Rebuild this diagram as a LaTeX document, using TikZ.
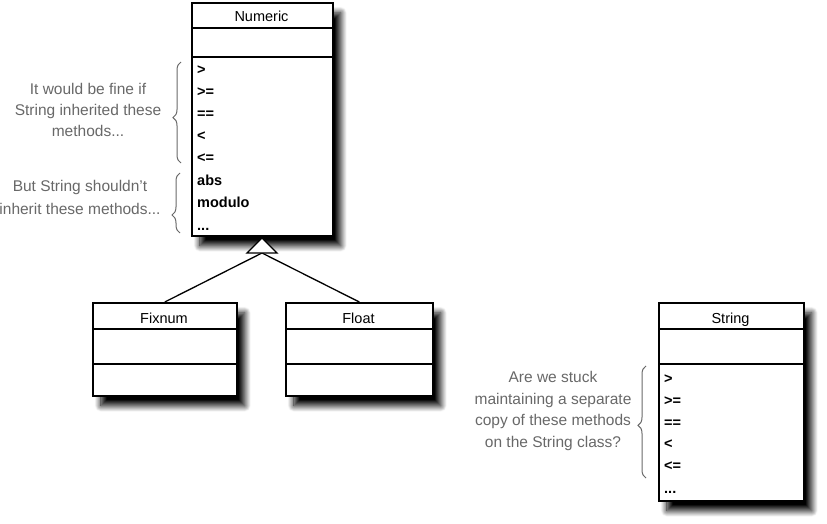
\documentclass[tikz,border=0pt]{standalone}
\usepackage{fontspec}
\setmainfont{Liberation Sans}
\usetikzlibrary{shadows.blur,decorations.pathreplacing}
\definecolor{notegray}{HTML}{686868}
\begin{document}
\begin{tikzpicture}[x=1pt,y=-1pt,
  classbox/.style={draw=black, line width=1.6pt, fill=white, rectangle, anchor=north west, inner sep=0pt,
    blur shadow={shadow xshift=8pt, shadow yshift=-10pt, shadow blur radius=6pt, shadow blur steps=16, shadow opacity=100}},
  titletext/.style={font=\fontsize{14.5}{16}\selectfont, anchor=base, inner sep=0pt},
  methodtext/.style={font=\fontsize{14.5}{16}\selectfont\bfseries, anchor=base west, inner sep=0pt},
  septhick/.style={line width=2.8pt},
  septhin/.style={line width=1.1pt},
  note/.style={font=\fontsize{15.5}{21}\selectfont, text=notegray, align=center, inner sep=0pt},
  notebrace/.style={draw=notegray, line width=1pt, decorate, decoration={brace, amplitude=8pt, aspect=#1}},
  link/.style={line width=1.3pt},
]
\useasboundingbox (0,0) rectangle (827,524);

% ---------- Numeric ----------
\node[classbox, minimum width=141pt, minimum height=233pt] (numeric) at (191,2) {};
\node[titletext] (numericT) at (261.5,22) {Numeric};
\draw[septhick] (numeric.west |- 0,28) -- (numeric.east |- 0,28);
\draw[septhin] (numeric.west |- 0,57) -- (numeric.east |- 0,57);
\node[methodtext] (n1) at (197,75) {>};
\node[methodtext] (n2) at (197,97) {>=};
\node[methodtext] (n3) at (197,119) {==};
\node[methodtext] (n4) at (197,140) {<};
\node[methodtext] (n5) at (197,162) {<=};
\node[methodtext] (n6) at (197,185) {abs};
\node[methodtext] (n7) at (197,207) {modulo};
\node[methodtext] (n8) at (197,230) {...};

% ---------- Fixnum ----------
\node[classbox, minimum width=144pt, minimum height=93pt] (fixnum) at (92,302) {};
\node[titletext] (fixnumT) at (164,323) {Fixnum};
\draw[septhick] (fixnum.west |- 0,329) -- (fixnum.east |- 0,329);
\draw[septhin] (fixnum.west |- 0,364) -- (fixnum.east |- 0,364);

% ---------- Float ----------
\node[classbox, minimum width=147pt, minimum height=93pt] (float) at (285,302) {};
\node[titletext] (floatT) at (358.5,323) {Float};
\draw[septhick] (float.west |- 0,329) -- (float.east |- 0,329);
\draw[septhin] (float.west |- 0,364) -- (float.east |- 0,364);

% ---------- String ----------
\node[classbox, minimum width=145pt, minimum height=198pt] (string) at (658,302) {};
\node[titletext] (stringT) at (730.5,323) {String};
\draw[septhick] (string.west |- 0,329) -- (string.east |- 0,329);
\draw[septhin] (string.west |- 0,364) -- (string.east |- 0,364);
\node[methodtext] (s1) at (664,383) {>};
\node[methodtext] (s2) at (664,405) {>=};
\node[methodtext] (s3) at (664,427) {==};
\node[methodtext] (s4) at (664,448) {<};
\node[methodtext] (s5) at (664,470) {<=};
\node[methodtext] (s6) at (664,493) {...};

% ---------- inheritance ----------
\coordinate (tribase) at (262,253);
\draw[link] (fixnum.north) -- (tribase);
\draw[link] (float.north) -- (tribase);
\draw[line width=1.3pt, fill=white, line join=miter] (247,253) -- (262,238) -- (277,253) -- cycle;

% ---------- notes ----------
\node[note] (note1) at (88,110) {It would be fine if\\String inherited these\\methods...};
\draw[notebrace=0.45] (181,163) -- (181,62);
\node[note, font=\fontsize{15.5}{23}\selectfont] (note2) at (80,197) {But String shouldn't\\inherit these methods...};
\draw[notebrace=0.3] (180,233) -- (180,173);
\node[note, font=\fontsize{15.5}{21.5}\selectfont] (note3) at (553,411) {Are we stuck\\maintaining a separate\\copy of these methods\\on the String class?};
\draw[notebrace=0.47] (646,478) -- (646,366);
\end{tikzpicture}
\end{document}
